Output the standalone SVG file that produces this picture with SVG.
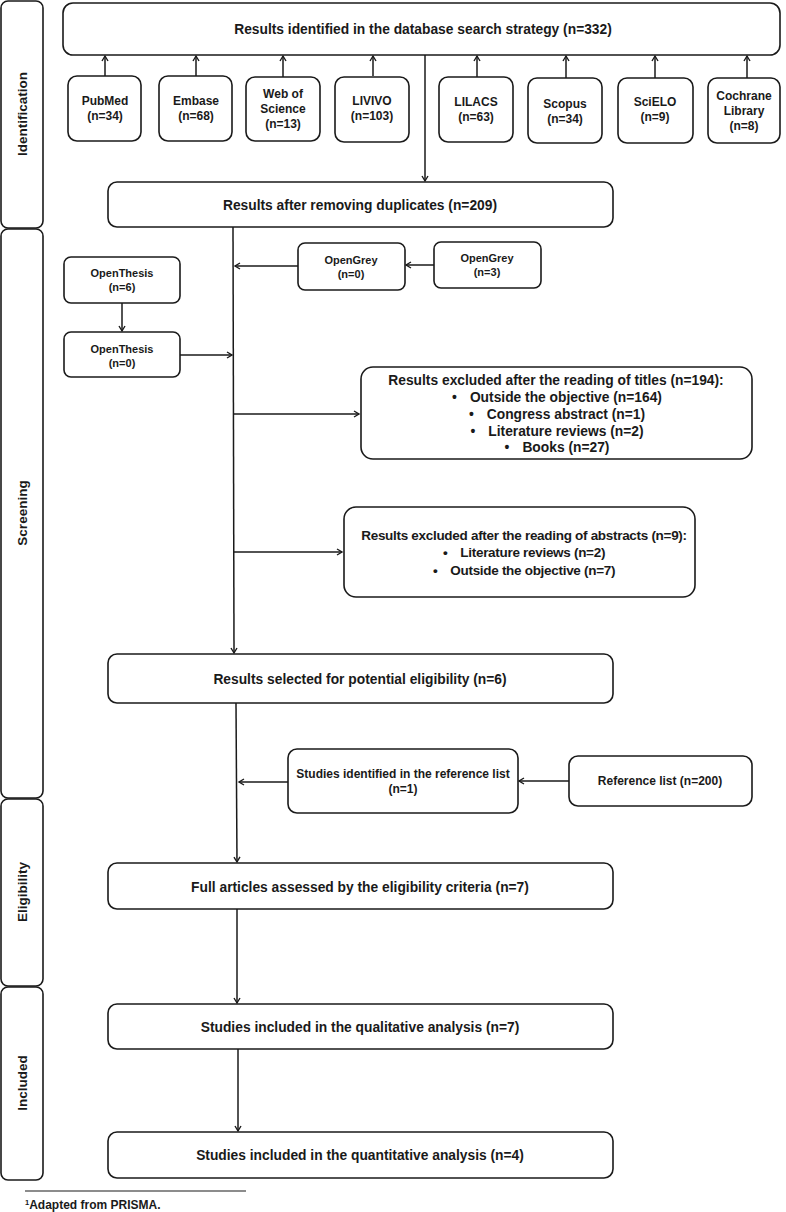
<svg xmlns="http://www.w3.org/2000/svg" width="786" height="1212" viewBox="0 0 786 1212">
<defs>
<style>
.b{fill:#fff;stroke:#1a1a1a;stroke-width:1.6}
.t{font-family:"Liberation Sans",Arial,sans-serif;font-weight:bold;fill:#1a1a1a;text-anchor:middle}
.l14{font-size:13.8px}
.l13{font-size:13.5px}
.a13{font-size:13.5px;letter-spacing:-0.3px}
.l12{font-size:12px}
.l11{font-size:11px}
.c{stroke:#1a1a1a;stroke-width:1.5;fill:none;marker-end:url(#ah)}
.n{stroke:#1a1a1a;stroke-width:1.2;fill:none}
</style>
<marker id="ah" markerWidth="8" markerHeight="8" refX="6" refY="4" orient="auto" markerUnits="userSpaceOnUse">
<path d="M1,1 L6,4 L1,7" fill="none" stroke="#1a1a1a" stroke-width="1.4"/>
</marker>
</defs>
<rect width="786" height="1212" fill="#fff"/>

<g id="phase-identification"><rect class="b" x="1" y="1" width="42" height="227" rx="7"/><text class="t l13" transform="translate(27,114) rotate(-90)">Identification</text></g>
<g id="phase-screening"><rect class="b" x="1" y="229" width="42" height="569" rx="7"/><text class="t l13" transform="translate(27,513) rotate(-90)">Screening</text></g>
<g id="phase-eligibility"><rect class="b" x="1" y="799" width="42" height="187" rx="7"/><text class="t l13" transform="translate(27,892) rotate(-90)">Eligibility</text></g>
<g id="phase-included"><rect class="b" x="1" y="987" width="42" height="193" rx="7"/><text class="t l13" transform="translate(27,1083) rotate(-90)">Included</text></g>

<g id="connectors">
<line class="c" x1="105" y1="76" x2="105" y2="56"/>
<line class="c" x1="196" y1="76" x2="196" y2="56"/>
<line class="c" x1="283" y1="77" x2="283" y2="56"/>
<line class="c" x1="373" y1="76" x2="373" y2="56"/>
<line class="c" x1="477" y1="77" x2="477" y2="56"/>
<line class="c" x1="566" y1="78" x2="566" y2="56"/>
<line class="c" x1="655" y1="78" x2="655" y2="56"/>
<line class="c" x1="747" y1="78" x2="747" y2="56"/>
<line class="c" x1="425" y1="55" x2="425" y2="181"/>
<line class="c" x1="233" y1="227" x2="234" y2="653"/>
<line class="c" x1="298" y1="266" x2="235" y2="266"/>
<line class="c" x1="434" y1="265" x2="406" y2="265"/>
<line class="c" x1="122" y1="303" x2="122" y2="331"/>
<line class="c" x1="180" y1="355" x2="232" y2="355"/>
<line class="c" x1="234" y1="414" x2="359" y2="414"/>
<line class="c" x1="234" y1="552" x2="342" y2="552"/>
<line class="c" x1="236" y1="703" x2="237" y2="862"/>
<line class="c" x1="288" y1="782" x2="239" y2="782"/>
<line class="c" x1="569" y1="781" x2="519" y2="781"/>
<line class="c" x1="237" y1="909" x2="237" y2="1003"/>
<line class="c" x1="238" y1="1049" x2="238" y2="1131"/>
</g>

<g id="n-search"><rect class="b" x="63" y="3" width="717" height="52" rx="10"/><text class="t l14" x="423" y="34">Results identified in the database search strategy (n=332)</text></g>

<g id="n-pubmed"><rect class="b" x="68" y="76" width="73" height="65" rx="9"/><text class="t l12" x="105" y="105">PubMed</text><text class="t l12" x="105" y="120">(n=34)</text></g>
<g id="n-embase"><rect class="b" x="159" y="76" width="73" height="65" rx="9"/><text class="t l12" x="196" y="105">Embase</text><text class="t l12" x="196" y="120">(n=68)</text></g>
<g id="n-wos"><rect class="b" x="246" y="77" width="74" height="64" rx="9"/><text class="t l12" x="283" y="98">Web of</text><text class="t l12" x="283" y="113">Science</text><text class="t l12" x="283" y="128">(n=13)</text></g>
<g id="n-livivo"><rect class="b" x="335" y="77" width="74" height="65" rx="9"/><text class="t l12" x="372" y="105">LIVIVO</text><text class="t l12" x="372" y="120">(n=103)</text></g>
<g id="n-lilacs"><rect class="b" x="439" y="77" width="74" height="65" rx="9"/><text class="t l12" x="476" y="106">LILACS</text><text class="t l12" x="476" y="121">(n=63)</text></g>
<g id="n-scopus"><rect class="b" x="528" y="78" width="74" height="65" rx="9"/><text class="t l12" x="565" y="108">Scopus</text><text class="t l12" x="565" y="123">(n=34)</text></g>
<g id="n-scielo"><rect class="b" x="618" y="78" width="75" height="65" rx="9"/><text class="t l12" x="655" y="106">SciELO</text><text class="t l12" x="655" y="121">(n=9)</text></g>
<g id="n-cochrane"><rect class="b" x="708" y="78" width="72" height="65" rx="9"/><text class="t l12" x="744" y="100">Cochrane</text><text class="t l12" x="744" y="115">Library</text><text class="t l12" x="744" y="130">(n=8)</text></g>

<g id="n-duplicates"><rect class="b" x="108" y="182" width="505" height="45" rx="9"/><text class="t l14" x="360" y="210">Results after removing duplicates (n=209)</text></g>

<g id="n-opengrey0"><rect class="b" x="298" y="243" width="107" height="47" rx="7"/><text class="t l11" x="351" y="264">OpenGrey</text><text class="t l11" x="351" y="278">(n=0)</text></g>
<g id="n-opengrey3"><rect class="b" x="434" y="242" width="107" height="46" rx="7"/><text class="t l11" x="487" y="262">OpenGrey</text><text class="t l11" x="487" y="276">(n=3)</text></g>
<g id="n-openthesis6"><rect class="b" x="64" y="257" width="116" height="46" rx="7"/><text class="t l11" x="122" y="277">OpenThesis</text><text class="t l11" x="122" y="291">(n=6)</text></g>
<g id="n-openthesis0"><rect class="b" x="64" y="332" width="116" height="45" rx="7"/><text class="t l11" x="122" y="353">OpenThesis</text><text class="t l11" x="122" y="367">(n=0)</text></g>

<g id="n-titles"><rect class="b" x="361" y="367" width="391" height="92" rx="12"/>
<text class="t l14" x="556" y="385">Results excluded after the reading of titles (n=194):</text>
<text class="t l14" x="557" y="402">•<tspan dx="13">Outside the objective (n=164)</tspan></text>
<text class="t l14" x="557" y="419">•<tspan dx="13">Congress abstract (n=1)</tspan></text>
<text class="t l14" x="557" y="436">•<tspan dx="13">Literature reviews (n=2)</tspan></text>
<text class="t l14" x="557" y="452">•<tspan dx="13">Books (n=27)</tspan></text>
</g>

<g id="n-abstracts"><rect class="b" x="344" y="507" width="351" height="90" rx="12"/>
<text class="t a13" x="524" y="540">Results excluded after the reading of abstracts (n=9):</text>
<text class="t a13" x="524" y="557">•<tspan dx="13">Literature reviews (n=2)</tspan></text>
<text class="t a13" x="524" y="575">•<tspan dx="13">Outside the objective (n=7)</tspan></text>
</g>

<g id="n-potential"><rect class="b" x="108" y="654" width="505" height="49" rx="9"/><text class="t l14" x="360" y="684">Results selected for potential eligibility (n=6)</text></g>

<g id="n-refstudies"><rect class="b" x="288" y="749" width="230" height="64" rx="9"/><text class="t l12" x="403" y="778">Studies identified in the reference list</text><text class="t l12" x="403" y="793">(n=1)</text></g>
<g id="n-reflist"><rect class="b" x="569" y="756" width="183" height="50" rx="9"/><text class="t l12" x="660" y="785">Reference list (n=200)</text></g>

<g id="n-full"><rect class="b" x="108" y="863" width="505" height="46" rx="9"/><text class="t l14" x="360" y="892">Full articles assessed by the eligibility criteria (n=7)</text></g>
<g id="n-qual"><rect class="b" x="108" y="1004" width="505" height="45" rx="9"/><text class="t l14" x="360" y="1032">Studies included in the qualitative analysis (n=7)</text></g>
<g id="n-quant"><rect class="b" x="108" y="1132" width="505" height="46" rx="9"/><text class="t l14" x="360" y="1160">Studies included in the quantitative analysis (n=4)</text></g>

<g id="footnote"><line class="n" x1="25" y1="1191" x2="246" y2="1191"/><text x="25" y="1209" style="font-family:'Liberation Sans',Arial,sans-serif;font-weight:bold;font-size:12px;fill:#1a1a1a"><tspan font-size="7.5" dy="-4">1</tspan><tspan dy="4">Adapted from PRISMA.</tspan></text></g>
</svg>
